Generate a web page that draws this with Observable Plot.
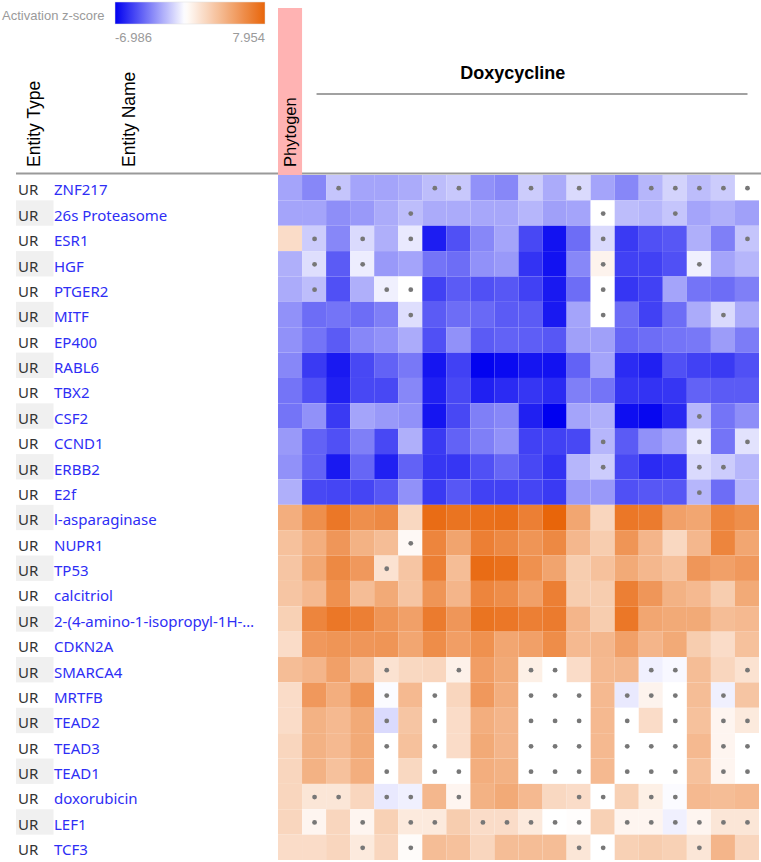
<!DOCTYPE html>
<html>
<head>
<meta charset="utf-8">
<script src="https://cdn.jsdelivr.net/npm/d3@7"></script>
<script src="https://cdn.jsdelivr.net/npm/@observablehq/plot@0.6"></script>
<style>
  body { margin: 0; background: #fff; }
  svg { display: block; }
</style>
</head>
<body>
<div id="chart"></div>
<script>
// ---------------- DATA ----------------
const columns = ["Phytogen"].concat(d3.range(1, 20).map(i => "Doxycycline " + i));
const groupLabel = "Doxycycline";
const legendTitle = "Activation z-score";
const zDomain = [-6.986, 7.954];
const zColors = ["#0000f0", "#ffffff", "#e8650a"];

const entityNames = [
  "ZNF217", "26s Proteasome", "ESR1", "HGF", "PTGER2", "MITF", "EP400", "RABL6", "TBX2",
  "CSF2", "CCND1", "ERBB2", "E2f", "l-asparaginase", "NUPR1", "TP53", "calcitriol",
  "2-(4-amino-1-isopropyl-1H-…", "CDKN2A", "SMARCA4", "MRTFB", "TEAD2", "TEAD3", "TEAD1",
  "doxorubicin", "LEF1", "TCF3"
];
const entityTypes = entityNames.map(() => "UR");

// z-scores: one row per entity, one value per column (Phytogen, then 19 Doxycycline samples)
const zZNF217   = [-2.5,-3.3,-1.6,-2.5,-2.5,-2.3,-1.8,-1.5,-3.0,-3.3,-1.4,-2.3,-1.0,-2.5,-3.3,-2.0,-1.2,-1.8,-1.4,0];
const z26s      = [-2.5,-2.5,-3.1,-2.8,-2.3,-1.8,-2.3,-2.3,-2.4,-2.4,-2.0,-2.6,-2.5,0,-1.8,-2.0,-1.6,-2.5,-2.2,-2.6];
const zESR1     = [1.8,-1.4,-3.3,-1.0,-2.2,-0.6,-6.2,-4.8,-3.3,-2.5,-5.0,-6.5,-4.0,-1.0,-5.4,-4.8,-4.6,-2.2,-3.5,-1.6];
const zHGF      = [-2.2,-0.9,-4.5,-0.5,-2.8,-2.5,-3.8,-4.0,-3.0,-2.8,-5.6,-6.5,-3.3,0.6,-5.2,-5.2,-4.8,-0.4,-2.5,-2.0];
const zPTGER2   = [-2.3,-1.8,-4.8,-2.2,-0.4,0,-5.2,-4.5,-4.8,-4.6,-5.2,-6.3,-4.0,0,-5.5,-5.2,-2.5,-3.8,-4.0,-3.5];
const zMITF     = [-3.0,-4.0,-3.8,-4.0,-3.5,-0.9,-4.5,-4.0,-4.1,-4.5,-4.5,-6.3,-2.5,0,-4.0,-5.2,-4.0,-2.3,-1.0,-2.3];
const zEP400    = [-3.0,-3.8,-4.5,-3.3,-3.0,-2.3,-4.8,-3.0,-4.5,-4.3,-4.4,-4.6,-2.6,-2.6,-4.2,-4.0,-3.8,-3.7,-2.7,-3.6];
const zRABL6    = [-3.3,-5.4,-6.3,-5.0,-4.3,-3.7,-6.4,-5.2,-6.9,-6.7,-6.4,-6.5,-4.3,-2.5,-5.8,-6.1,-4.8,-5.2,-5.4,-4.8];
const zTBX2     = [-3.8,-4.8,-6.1,-5.0,-5.0,-3.3,-6.1,-5.0,-6.1,-5.8,-5.5,-5.8,-3.5,-3.8,-5.5,-5.6,-5.5,-4.3,-4.5,-4.5];
const zCSF2     = [-3.8,-3.0,-5.4,-2.5,-2.8,-3.0,-6.4,-5.0,-3.5,-3.3,-6.1,-6.986,-2.5,-2.2,-6.6,-6.8,-5.9,-2.0,-3.8,-3.1];
const zCCND1    = [-2.8,-4.3,-4.8,-3.5,-5.0,-2.2,-5.4,-4.3,-3.5,-3.0,-5.2,-5.2,-5.0,-2.0,-4.5,-3.0,-2.5,-0.6,-3.8,-0.8];
const zERBB2    = [-3.0,-4.3,-6.3,-4.2,-6.1,-4.3,-5.5,-5.5,-4.8,-4.2,-5.0,-5.6,-2.0,-1.4,-5.0,-5.8,-5.6,-1.0,-1.4,-2.0];
const zE2f      = [-2.2,-5.0,-5.1,-5.1,-4.6,-3.0,-5.4,-4.6,-5.2,-5.2,-5.1,-5.4,-2.8,-2.8,-4.8,-4.6,-4.6,-2.0,-4.0,-2.0];
const zLasp     = [4.2,5.8,7.0,5.8,6.1,2.0,7.6,7.2,7.4,7.5,6.6,7.954,4.6,2.1,7.0,6.8,4.9,4.6,6.3,5.8];
const zNUPR1    = [3.2,4.2,5.4,4.0,3.4,0.3,6.3,4.7,6.6,6.1,5.5,6.1,3.7,2.6,5.5,3.8,2.0,3.7,6.3,4.6];
const zTP53     = [3.0,4.5,6.1,5.3,1.5,3.0,6.6,3.4,7.6,7.4,5.7,4.7,2.6,3.2,4.4,3.7,3.2,5.4,4.9,5.3];
const zCalcit   = [3.0,3.6,5.7,3.4,4.4,3.0,5.5,3.8,6.3,5.9,4.9,6.6,2.6,2.6,6.6,5.4,4.0,3.6,2.6,4.4];
const zAmino    = [2.4,6.3,7.0,6.6,5.5,4.9,6.8,5.4,7.2,7.0,6.6,6.8,3.8,2.6,7.0,4.6,4.4,4.4,3.4,3.6];
const zCDKN2A   = [1.8,5.3,5.5,5.4,5.5,4.6,5.9,5.0,5.7,4.6,4.9,5.9,3.6,3.7,4.9,3.8,4.4,2.6,1.8,3.2];
const zSMARCA4  = [3.4,3.8,4.9,3.4,1.5,2.0,2.1,0.7,5.0,4.4,0.8,0,1.8,3.6,3.7,-0.4,-0.2,3.4,2.1,1.5];
const zMRTFB    = [1.8,5.3,4.2,5.5,-0.1,3.6,0,2.1,5.3,4.2,0,0,0,3.6,-0.6,0.6,0,3.4,-0.4,3.0];
const zTEAD2    = [1.8,4.0,3.6,4.4,-1.0,3.0,0,1.8,4.2,3.8,0,0,0,3.6,0,1.8,0,3.2,0.5,1.1];
const zTEAD3    = [2.1,4.0,3.6,4.4,0,3.2,0,1.8,4.4,3.8,0,0,0,3.6,0,0,0,3.6,0.5,0];
const zTEAD1    = [2.1,4.0,3.2,4.2,0,2.0,0,0,4.2,4.0,0,0,0,3.6,0,0,0,3.2,0.5,0];
const zDoxo     = [2.1,1.3,1.3,2.1,-0.6,-0.4,3.7,0.5,4.0,4.4,3.6,2.0,1.8,0,2.4,0.8,-0.1,3.6,3.4,3.6];
const zLEF1     = [2.1,0.5,2.1,0.5,2.4,1.1,1.1,2.6,1.8,1.8,1.1,0,0.1,2.4,0.5,0.5,-0.4,0.5,1.3,1.3];
const zTCF3     = [1.8,1.8,2.1,1.1,2.1,0.2,3.4,3.2,2.1,3.4,3.4,3.4,1.3,0,2.4,2.6,2.4,1.3,3.8,2.1];

const zscores = [zZNF217, z26s, zESR1, zHGF, zPTGER2, zMITF, zEP400, zRABL6, zTBX2, zCSF2,
  zCCND1, zERBB2, zE2f, zLasp, zNUPR1, zTP53, zCalcit, zAmino, zCDKN2A, zSMARCA4, zMRTFB,
  zTEAD2, zTEAD3, zTEAD1, zDoxo, zLEF1, zTCF3];

// columns (index) marked with a grey dot, per entity
const dotColumns = [
  [2,6,7,10,12,15,16,17,18,19],
  [5,13,16],
  [1,3,5,13,19],
  [1,3,13,17],
  [1,4,5,13],
  [5,13,18],
  [], [], [],
  [17],
  [13,17,19],
  [13,17,18],
  [17],
  [],
  [5],
  [4],
  [], [], [],
  [4,7,10,11,15,16,19],
  [4,6,10,11,12,14,15,16,18],
  [4,6,10,11,12,14,16,18,19],
  [4,6,10,11,12,14,15,16,18,19],
  [4,6,7,10,11,12,14,15,16,18,19],
  [1,2,4,5,7,12,13,15,16],
  [1,3,5,6,8,9,10,11,12,14,15,16,17,18,19],
  [3,5,12,13,17]
];

// ---------------- BUILD ----------------
const cells = [];
entityNames.forEach((name, r) => {
  zscores[r].forEach((z, c) => {
    cells.push({entity: name, column: columns[c], z, dot: dotColumns[r].includes(c)});
  });
});

const legendScale = d3.scaleLinear().domain([zDomain[0], 0, zDomain[1]]).range(zColors).interpolate(d3.interpolateRgb);

function bandwidthOf(scale, fallback) {
  return (scale && typeof scale.bandwidth === "function") ? scale.bandwidth() : fallback;
}

function addText(g, {x, y, transform, size, fill, anchor = "start", weight = "normal", family}, str) {
  const t = g.append("text");
  if (transform) t.attr("transform", transform); else t.attr("x", x).attr("y", y);
  t.attr("font-size", size).attr("fill", fill).attr("text-anchor", anchor)
   .attr("font-weight", weight).style("text-anchor", anchor);
  if (family) t.attr("font-family", family);
  t.text(str);
  return t;
}

function headerMark(index, scales, values, dims) {
  const x = scales.x;
  const bw = bandwidthOf(x, (dims.width - dims.marginLeft - dims.marginRight) / columns.length);
  const g = d3.create("svg:g")
    .attr("font-family", "'Liberation Sans', Arial, sans-serif")
    .attr("text-anchor", "start");

  // legend
  const gid = "zgrad";
  const grad = g.append("defs").append("linearGradient").attr("id", gid);
  d3.range(0, 1.0001, 0.02).forEach(t => {
    grad.append("stop").attr("offset", t)
      .attr("stop-color", legendScale(zDomain[0] + t * (zDomain[1] - zDomain[0])));
  });
  addText(g, {x: 2, y: 19.5, size: 13, fill: "#9a9a9a"}, legendTitle);
  g.append("rect").attr("x", 115).attr("y", 2).attr("width", 150).attr("height", 22)
    .attr("fill", `url(#${gid})`).attr("stroke", "#dddddd").attr("stroke-width", 0.5);
  addText(g, {x: 115, y: 41.5, size: 13, fill: "#9a9a9a"}, zDomain[0].toFixed(3));
  addText(g, {x: 265, y: 41.5, size: 13, fill: "#9a9a9a", anchor: "end"}, zDomain[1].toFixed(3));

  // header separator
  g.append("line").attr("x1", 16).attr("x2", dims.width).attr("y1", dims.marginTop - 1.5).attr("y2", dims.marginTop - 1.5)
    .attr("stroke", "#9a9a9a").attr("stroke-width", 2);

  // column headers
  addText(g, {transform: `translate(40,${dims.marginTop - 8}) rotate(-90)`, size: 17.5, fill: "#000"}, "Entity Type");
  addText(g, {transform: `translate(135,${dims.marginTop - 8}) rotate(-90)`, size: 17.5, fill: "#000"}, "Entity Name");

  const x0 = x(columns[0]);
  g.append("rect").attr("x", x0).attr("y", 8).attr("width", bw).attr("height", dims.marginTop - 8)
    .attr("fill", "#ffb3b3");
  addText(g, {transform: `translate(${x0 + bw / 2 + 5.5},${dims.marginTop - 8}) rotate(-90)`, size: 16.5, fill: "#000"}, columns[0]);

  const lx1 = x(columns[1]) + 14.5;
  const lx2 = x(columns[columns.length - 1]) + bw - 11.5;
  g.append("line").attr("x1", lx1).attr("x2", lx2).attr("y1", 94).attr("y2", 94)
    .attr("stroke", "#444").attr("stroke-width", 1.2);
  addText(g, {x: (x0 + lx2) / 2, y: 79, size: 18, fill: "#000", anchor: "middle", weight: "bold"}, groupLabel);
  return g.node();
}

function rowLabelMark(index, scales, values, dims) {
  const y = scales.y;
  const bh = bandwidthOf(y, (dims.height - dims.marginTop - dims.marginBottom) / entityNames.length);
  const g = d3.create("svg:g")
    .attr("font-family", "'Noto Sans', 'Open Sans', sans-serif")
    .attr("text-anchor", "start");
  entityNames.forEach((name, i) => {
    const y0 = y(name);
    if (i % 2 === 1) {
      g.append("rect").attr("x", 16).attr("y", y0).attr("width", 37.5).attr("height", bh).attr("fill", "#f0f0f0");
    }
    addText(g, {x: 18, y: y0 + bh / 2 + 7.8, size: 15, fill: "#333"}, entityTypes[i]);
    addText(g, {x: 54, y: y0 + bh / 2 + 7.8, size: 15, fill: "#2e2ef5"}, name);
  });
  return g.node();
}

const chart = Plot.plot({
  width: 761,
  height: 862,
  marginTop: 175,
  marginLeft: 278,
  marginRight: 2,
  marginBottom: 2,
  x: {type: "band", domain: columns, padding: 0, round: false, axis: null},
  y: {type: "band", domain: entityNames, padding: 0, round: false, axis: null},
  color: {type: "linear", domain: [zDomain[0], 0, zDomain[1]], range: zColors, interpolate: "rgb"},
  marks: [
    Plot.cell(cells, {x: "column", y: "entity", fill: "z", inset: 0}),
    Plot.dot(cells.filter(d => d.dot), {x: "column", y: "entity", r: 2.4, fill: "#777777", stroke: null}),
    rowLabelMark,
    headerMark
  ]
});
document.getElementById("chart").appendChild(chart);
</script>
</body>
</html>
